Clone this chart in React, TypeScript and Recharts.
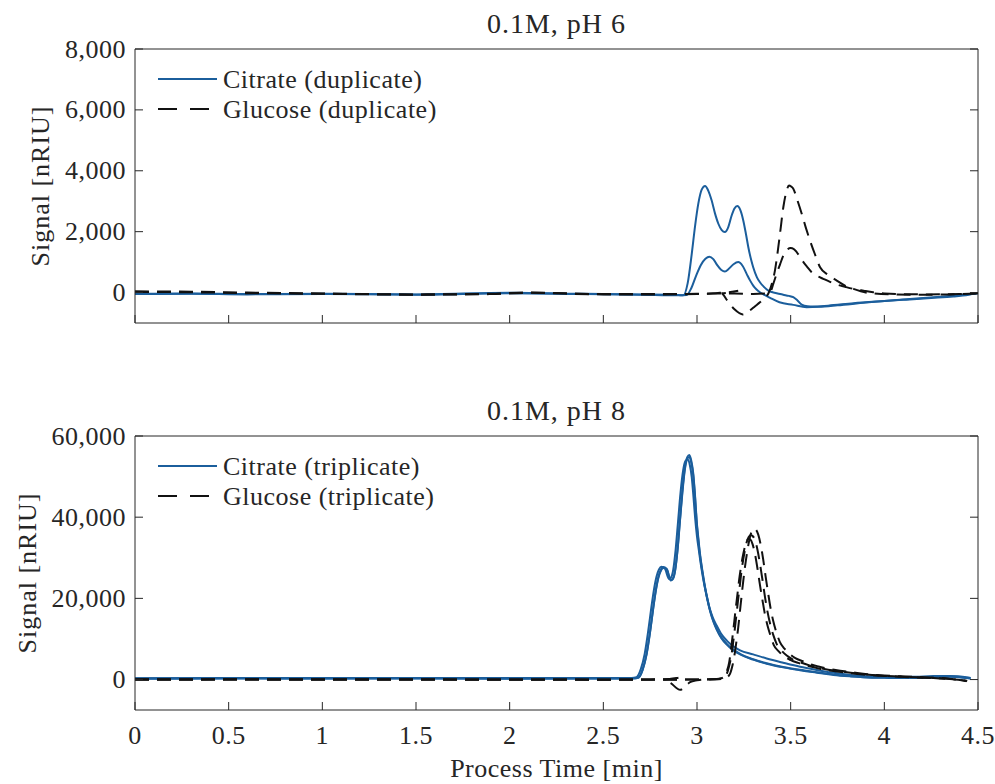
import React from "react";
import { LineChart, Line, XAxis, YAxis } from "recharts";

const FONT = '"Liberation Serif", "DejaVu Serif", serif';
const INK = "#262626";
const BLUE = "#1b5e9c";
const BLACK = "#111111";

// axis ticks
const timeTicks = [0, 0.5, 1, 1.5, 2, 2.5, 3, 3.5, 4, 4.5];
const ph6Ticks = [0, 2000, 4000, 6000, 8000];
const ph8Ticks = [0, 20000, 40000, 60000];

// ---- 0.1M, pH 6 : citrate (duplicate) ----
const ph6Cit1T = [0, 0.3, 0.6, 1.0, 1.5, 2.0, 2.4, 2.7, 2.9, 2.927, 2.95, 2.972, 2.99, 3.007, 3.025, 3.043, 3.06, 3.078, 3.096, 3.114, 3.132, 3.149, 3.167, 3.185, 3.2, 3.215, 3.232, 3.247, 3.262, 3.274, 3.29, 3.3, 3.32, 3.336, 3.36, 3.381, 3.425, 3.46, 3.49, 3.514, 3.535, 3.559, 3.59, 3.621, 3.7, 3.835, 4.0, 4.1, 4.25, 4.368, 4.45, 4.5];
const ph6Cit1Y = [-40, -30, -50, -40, -60, -10, -40, -60, -80, -90, 300, 1270, 2200, 2920, 3380, 3500, 3350, 3030, 2600, 2260, 2050, 1985, 2150, 2530, 2760, 2840, 2700, 2370, 1900, 1490, 1050, 830, 500, 340, 170, 65, -20, -70, -110, -150, -250, -400, -450, -460, -430, -350, -280, -240, -180, -130, -70, -10];
const ph6Cit2T = [0, 0.3, 0.6, 1.0, 1.5, 2.0, 2.4, 2.7, 2.9, 2.945, 2.97, 2.995, 3.02, 3.045, 3.066, 3.087, 3.108, 3.13, 3.149, 3.17, 3.195, 3.22, 3.243, 3.265, 3.283, 3.3, 3.318, 3.336, 3.36, 3.39, 3.44, 3.514, 3.585, 3.65, 3.75, 3.9, 4.1, 4.3, 4.5];
const ph6Cit2Y = [-50, -40, -60, -50, -70, -20, -50, -70, -90, -80, 150, 550, 900, 1110, 1180, 1100, 900, 740, 690, 780, 930, 1000, 880, 615, 400, 230, 100, 10, -80, -175, -320, -405, -480, -470, -420, -330, -230, -140, -30];

// ---- 0.1M, pH 6 : glucose (duplicate) ----
const ph6Glu1T = [0, 0.3, 0.6, 1.0, 1.5, 1.9, 2.1, 2.5, 2.8, 3.0, 3.1, 3.22, 3.13, 3.16, 3.2, 3.245, 3.28, 3.31, 3.336, 3.36, 3.381, 3.4, 3.416, 3.43, 3.443, 3.461, 3.479, 3.491, 3.503, 3.514, 3.535, 3.559, 3.58, 3.603, 3.63, 3.657, 3.7, 3.746, 3.79, 3.835, 3.924, 4.05, 4.2, 4.35, 4.5];
const ph6Glu1Y = [20, 10, -20, -40, -70, -50, -10, -60, -60, -50, -20, 60, -20, -250, -550, -720, -600, -450, -320, -180, -30, 300, 720, 1300, 1930, 2810, 3360, 3520, 3480, 3410, 3050, 2590, 2150, 1710, 1250, 830, 580, 395, 230, 120, -20, -60, -70, -60, -30];
const ph6Glu2T = [0, 0.3, 0.6, 1.0, 1.5, 1.9, 2.1, 2.5, 2.8, 3.0, 3.2, 3.3, 3.36, 3.39, 3.408, 3.425, 3.443, 3.461, 3.48, 3.5, 3.517, 3.532, 3.55, 3.568, 3.59, 3.612, 3.64, 3.674, 3.71, 3.746, 3.79, 3.835, 3.89, 3.94, 4.0, 4.2, 4.4, 4.5];
const ph6Glu2Y = [40, 30, 0, -30, -60, -40, 0, -50, -50, -40, -30, -45, -30, 10, 300, 615, 920, 1220, 1400, 1460, 1430, 1330, 1170, 1000, 830, 670, 550, 450, 350, 265, 190, 120, 60, 10, -30, -60, -50, -20];

// ---- 0.1M, pH 8 : citrate (triplicate) ----
const ph8Cit1T = [0, 0.5, 1.0, 1.5, 2.0, 2.5, 2.66, 2.687, 2.71, 2.731, 2.75, 2.767, 2.78, 2.794, 2.807, 2.82, 2.838, 2.86, 2.872, 2.883, 2.896, 2.909, 2.922, 2.936, 2.948, 2.959, 2.97, 2.98, 2.99, 2.998, 3.008, 3.016, 3.03, 3.043, 3.056, 3.07, 3.087, 3.105, 3.13, 3.159, 3.19, 3.23, 3.3, 3.372, 3.46, 3.55, 3.64, 3.728, 3.82, 3.906, 4.0, 4.084, 4.17, 4.262, 4.35, 4.44, 4.46];
const ph8Cit1Y = [250, 300, 280, 300, 260, 280, 300, 500, 2500, 6350, 12000, 17900, 22000, 25300, 27000, 27700, 27300, 24600, 25000, 26900, 32000, 39300, 46500, 52400, 54800, 55300, 53800, 50800, 45000, 39300, 34500, 31000, 26500, 22800, 19800, 17000, 14500, 12500, 10400, 8800, 7500, 6350, 5000, 4030, 3100, 2390, 1800, 1230, 850, 580, 480, 410, 450, 580, 740, 410, 300];
const ph8Cit2T = [0, 0.5, 1.0, 1.5, 2.0, 2.5, 2.65, 2.677, 2.7, 2.721, 2.74, 2.757, 2.77, 2.784, 2.797, 2.81, 2.828, 2.85, 2.862, 2.873, 2.886, 2.899, 2.912, 2.926, 2.938, 2.95, 2.962, 2.972, 2.982, 2.99, 3.0, 3.01, 3.024, 3.038, 3.052, 3.066, 3.085, 3.105, 3.13, 3.159, 3.19, 3.23, 3.3, 3.372, 3.46, 3.55, 3.64, 3.728, 3.82, 3.906, 4.0, 4.084, 4.17, 4.262, 4.35, 4.44, 4.46];
const ph8Cit2Y = [350, 400, 380, 400, 360, 380, 400, 600, 2600, 6400, 12100, 18000, 22100, 25400, 27100, 27800, 27400, 24800, 25200, 27000, 32000, 39000, 46000, 51500, 53800, 54200, 52800, 49800, 44500, 39800, 35200, 31800, 27300, 23600, 20600, 17800, 15200, 13300, 11200, 9600, 8300, 7200, 6200, 5200, 4150, 3150, 2350, 1650, 1150, 830, 660, 600, 700, 850, 900, 600, 400];
const ph8Cit3Y = [200, 250, 230, 260, 220, 240, 260, 450, 2400, 6200, 11800, 17700, 21800, 25100, 26800, 27500, 27100, 24400, 24800, 26700, 31800, 39000, 46000, 52000, 54300, 54800, 53300, 50300, 44600, 38900, 34000, 30600, 26100, 22500, 19500, 16800, 14300, 12300, 10200, 8600, 7300, 6200, 4900, 3900, 3000, 2300, 1700, 1150, 780, 520, 430, 370, 410, 540, 700, 380, 280];

// ---- 0.1M, pH 8 : glucose (triplicate) ----
const ph8Glu1T = [0, 0.5, 1.0, 1.5, 2.0, 2.5, 2.75, 2.85, 2.918, 2.824, 2.86, 2.91, 2.94, 2.963, 3.0, 3.032, 3.08, 3.12, 3.145, 3.159, 3.172, 3.181, 3.19, 3.199, 3.208, 3.217, 3.225, 3.234, 3.243, 3.252, 3.263, 3.274, 3.285, 3.297, 3.31, 3.323, 3.336, 3.35, 3.363, 3.377, 3.394, 3.41, 3.435, 3.465, 3.5, 3.54, 3.59, 3.63, 3.67, 3.72, 3.81, 3.9, 4.0, 4.08, 4.17, 4.26, 4.35, 4.44];
const ph8Glu1Y = [50, 80, 60, 50, 30, 20, 40, 150, 580, 0, -900, -2540, -1500, -660, -200, 0, 50, 200, 700, 2000, 4300, 7300, 10700, 14300, 18000, 21400, 24600, 27500, 30000, 32000, 33700, 34700, 34500, 33300, 30800, 27300, 23300, 19400, 16000, 13200, 10600, 8500, 7000, 5700, 4800, 4100, 3400, 2950, 2500, 2150, 1650, 1180, 900, 700, 520, 380, 120, -300];
const ph8Glu2T = [0, 0.5, 1.0, 1.5, 2.0, 2.5, 2.75, 3.0, 3.1, 3.14, 3.159, 3.172, 3.185, 3.194, 3.203, 3.212, 3.221, 3.23, 3.238, 3.247, 3.256, 3.265, 3.276, 3.287, 3.298, 3.31, 3.323, 3.336, 3.35, 3.363, 3.376, 3.39, 3.407, 3.425, 3.45, 3.479, 3.51, 3.55, 3.6, 3.639, 3.68, 3.728, 3.82, 3.906, 4.0, 4.084, 4.17, 4.262, 4.35, 4.44, 4.448];
const ph8Glu2Y = [0, 50, 30, 20, 0, -20, 0, 30, 100, 400, 1400, 3400, 6350, 9500, 12900, 16600, 20300, 23700, 26900, 29600, 31900, 33800, 35100, 35600, 35300, 34300, 31900, 28600, 24400, 20300, 16800, 13800, 11000, 8800, 7200, 5930, 5000, 4270, 3500, 3040, 2600, 2220, 1700, 1230, 950, 740, 560, 410, 100, -410, -1480];
const ph8Glu3T = [0, 0.5, 1.0, 1.5, 2.0, 2.5, 2.75, 3.0, 3.1, 3.15, 3.175, 3.188, 3.2, 3.21, 3.22, 3.229, 3.238, 3.247, 3.256, 3.265, 3.274, 3.283, 3.293, 3.304, 3.315, 3.327, 3.34, 3.353, 3.366, 3.38, 3.393, 3.407, 3.424, 3.442, 3.467, 3.495, 3.525, 3.565, 3.61, 3.65, 3.69, 3.74, 3.83, 3.91, 4.0, 4.09, 4.18, 4.27, 4.36, 4.44];
const ph8Glu3Y = [-50, -20, -40, -30, -60, -40, -30, 0, 50, 300, 1300, 3200, 6000, 9200, 12800, 16700, 20600, 24300, 27700, 30600, 33100, 35200, 36600, 37200, 36900, 35700, 33200, 29700, 25500, 21200, 17500, 14400, 11600, 9300, 7600, 6300, 5300, 4500, 3700, 3200, 2750, 2350, 1800, 1320, 1020, 800, 620, 460, 150, -350];

type Pt = { t: number; v: number };
const zip = (t: number[], v: number[]): Pt[] => t.map((x, i) => ({ t: x, v: v[i] }));

const fmtThousands = (v: number) => v.toLocaleString("en-US");
const fmtTime = (v: number) => String(v);

const textStyle = { fontFamily: FONT, fill: INK, letterSpacing: 0.5 };

function leftTick(fmt: (v: number) => string) {
  return (p: any) => (
    <g>
      <line x1={p.x} y1={p.y} x2={p.x + 8} y2={p.y} stroke={INK} />
      <text x={p.x - 9} y={p.y} textAnchor="end" dominantBaseline="central" fontSize={26} style={textStyle}>
        {fmt(p.payload.value)}
      </text>
    </g>
  );
}
const rightTick = (p: any) => <line x1={p.x} y1={p.y} x2={p.x - 8} y2={p.y} stroke={INK} />;
const topTick = (p: any) => <line x1={p.x} y1={p.y} x2={p.x} y2={p.y + 8} stroke={INK} />;
function bottomTick(showLabel: boolean) {
  return (p: any) => (
    <g>
      <line x1={p.x} y1={p.y} x2={p.x} y2={p.y - 8} stroke={INK} />
      {showLabel && (
        <text x={p.x} y={p.y + 25} textAnchor="middle" dominantBaseline="central" fontSize={26} style={textStyle}>
          {fmtTime(p.payload.value)}
        </text>
      )}
    </g>
  );
}

interface PanelProps {
  top: number;
  height: number;
  topAxisH: number;
  bottomAxisH: number;
  title: string;
  yDomain: [number, number];
  yTicks: number[];
  yLabelX: number;
  citrate: Pt[][];
  glucose: Pt[][];
  citrateLabel: string;
  glucoseLabel: string;
  showTimeLabels: boolean;
}

function Panel(props: PanelProps) {
  const { top, height, topAxisH, bottomAxisH, title, yDomain, yTicks, yLabelX } = props;
  const plotTop = topAxisH;
  const plotBottom = height - bottomAxisH;
  const cx = (135 + 978) / 2;
  return (
    <div style={{ position: "absolute", left: 0, top, width: 995, height }}>
      <LineChart width={995} height={height} margin={{ top: 0, right: 0, bottom: 0, left: 0 }}>
        <XAxis
          xAxisId="b"
          dataKey="t"
          type="number"
          domain={[0, 4.5]}
          ticks={timeTicks}
          height={bottomAxisH}
          tickSize={0}
          tickMargin={0}
          tickLine={false}
          axisLine={{ stroke: INK }}
          tick={bottomTick(props.showTimeLabels)}
          interval={0}
        />
        <XAxis
          xAxisId="t"
          orientation="top"
          dataKey="t"
          type="number"
          domain={[0, 4.5]}
          ticks={timeTicks}
          height={topAxisH}
          tickSize={0}
          tickMargin={0}
          tickLine={false}
          axisLine={{ stroke: INK }}
          tick={topTick}
          interval={0}
        />
        <YAxis
          yAxisId="l"
          type="number"
          domain={yDomain}
          ticks={yTicks}
          width={135}
          tickSize={0}
          tickMargin={0}
          tickLine={false}
          axisLine={{ stroke: INK }}
          tick={leftTick(fmtThousands)}
          interval={0}
          allowDataOverflow
        />
        <YAxis
          yAxisId="r"
          orientation="right"
          type="number"
          domain={yDomain}
          ticks={yTicks}
          width={17}
          tickSize={0}
          tickMargin={0}
          tickLine={false}
          axisLine={{ stroke: INK }}
          tick={rightTick}
          interval={0}
          allowDataOverflow
        />
        {props.citrate.map((d, i) => (
          <Line
            key={"c" + i}
            data={d}
            dataKey="v"
            xAxisId="b"
            yAxisId="l"
            type="monotone"
            stroke={BLUE}
            strokeWidth={2}
            dot={false}
            activeDot={false}
            isAnimationActive={false}
          />
        ))}
        {props.glucose.map((d, i) => (
          <Line
            key={"g" + i}
            data={d}
            dataKey="v"
            xAxisId="b"
            yAxisId="l"
            type="monotone"
            stroke={BLACK}
            strokeWidth={2}
            strokeDasharray="14 8"
            dot={false}
            activeDot={false}
            isAnimationActive={false}
          />
        ))}
      </LineChart>

      <div
        style={{
          position: "absolute",
          left: cx,
          top: plotTop - 25,
          transform: "translate(-50%, -50%)",
          fontFamily: FONT,
          fontSize: 28,
          letterSpacing: 1,
          color: INK,
          whiteSpace: "nowrap",
        }}
      >
        {title}
      </div>

      <div
        style={{
          position: "absolute",
          left: yLabelX,
          top: (plotTop + plotBottom) / 2,
          transform: "translate(-50%, -50%) rotate(-90deg)",
          fontFamily: FONT,
          fontSize: 26,
          letterSpacing: 1,
          color: INK,
          whiteSpace: "nowrap",
        }}
      >
        Signal [nRIU]
      </div>

      <svg style={{ position: "absolute", left: 0, top: 0 }} width={995} height={height}>
        <line x1={158} x2={217} y1={plotTop + 30} y2={plotTop + 30} stroke={BLUE} strokeWidth={1.8} />
        <text x={223} y={plotTop + 30} dominantBaseline="central" fontSize={26} style={textStyle}>
          {props.citrateLabel}
        </text>
        <line
          x1={158}
          x2={217}
          y1={plotTop + 60}
          y2={plotTop + 60}
          stroke={BLACK}
          strokeWidth={2}
          strokeDasharray="19 13"
        />
        <text x={223} y={plotTop + 60} dominantBaseline="central" fontSize={26} style={textStyle}>
          {props.glucoseLabel}
        </text>
      </svg>
    </div>
  );
}

export default function App() {
  return (
    <div style={{ position: "absolute", left: 0, top: 0, width: 995, height: 784, background: "#fff" }}>
      <Panel
        top={0}
        height={340}
        topAxisH={49}
        bottomAxisH={17}
        title="0.1M, pH 6"
        yDomain={[-1000, 8000]}
        yTicks={ph6Ticks}
        yLabelX={41}
        citrate={[zip(ph6Cit1T, ph6Cit1Y), zip(ph6Cit2T, ph6Cit2Y)]}
        glucose={[zip(ph6Glu1T, ph6Glu1Y), zip(ph6Glu2T, ph6Glu2Y)]}
        citrateLabel="Citrate (duplicate)"
        glucoseLabel="Glucose (duplicate)"
        showTimeLabels={false}
      />
      <Panel
        top={380}
        height={404}
        topAxisH={56}
        bottomAxisH={74}
        title="0.1M, pH 8"
        yDomain={[-7500, 60000]}
        yTicks={ph8Ticks}
        yLabelX={28}
        citrate={[zip(ph8Cit1T, ph8Cit1Y), zip(ph8Cit2T, ph8Cit2Y), zip(ph8Cit1T, ph8Cit3Y)]}
        glucose={[zip(ph8Glu1T, ph8Glu1Y), zip(ph8Glu2T, ph8Glu2Y), zip(ph8Glu3T, ph8Glu3Y)]}
        citrateLabel="Citrate (triplicate)"
        glucoseLabel="Glucose (triplicate)"
        showTimeLabels
      />
      <div
        style={{
          position: "absolute",
          left: (135 + 978) / 2,
          top: 769,
          transform: "translate(-50%, -50%)",
          fontFamily: FONT,
          fontSize: 26,
          letterSpacing: 0.5,
          color: INK,
          whiteSpace: "nowrap",
        }}
      >
        Process Time [min]
      </div>
    </div>
  );
}
